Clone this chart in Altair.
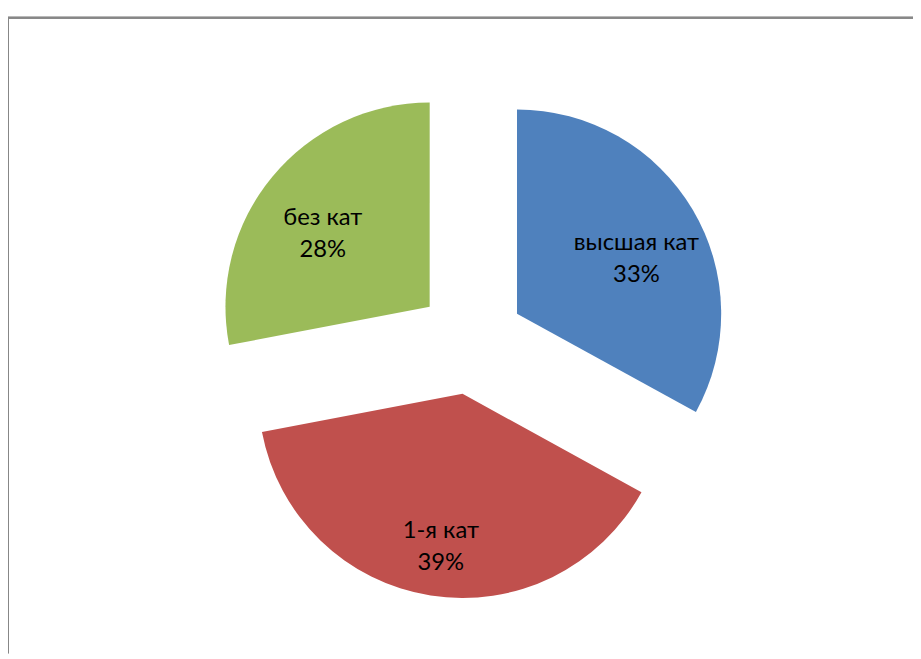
import altair as alt
import pandas as pd

categories = ["высшая кат", "1-я кат", "без кат"]
shares = [33, 39, 28]
colors = ["#4F81BD", "#C0504D", "#9BBB59"]

df = pd.DataFrame({"cat": categories, "share": shares, "order": [0, 1, 2]})

W, H = 913, 648
CX, CY = 467, 333      # pie centre (px, plot coords)
EXPLODE = 54           # explode distance
R = 206                # radius
RLAB = 140             # label distance from slice apex

base = alt.Chart(df).transform_joinaggregate(
    total="sum(share)"
).transform_window(
    cum="sum(share)", sort=[alt.SortField("order")]
).transform_calculate(
    start="2*PI*(datum.cum - datum.share)/datum.total",
    end="2*PI*datum.cum/datum.total",
    mid="2*PI*(datum.cum - datum.share/2)/datum.total",
).transform_calculate(
    px=f"{CX} + {EXPLODE}*sin(datum.mid)",
    py=f"{CY} - {EXPLODE}*cos(datum.mid)",
).transform_calculate(
    lx=f"datum.px + {RLAB}*sin(datum.mid)",
    ly=f"datum.py - {RLAB}*cos(datum.mid)",
    label="datum.cat + '\\n' + format(datum.share/datum.total, '.0%')",
)

xs = alt.Scale(domain=[0, W], range=[0, W], nice=False, zero=False)
ys = alt.Scale(domain=[0, H], range=[0, H], nice=False, zero=False)

arcs = base.mark_arc(outerRadius=R, innerRadius=0).encode(
    x=alt.X("px:Q", scale=xs, axis=None),
    y=alt.Y("py:Q", scale=ys, axis=None),
    theta=alt.Theta("start:Q", scale=None),
    theta2="end:Q",
    color=alt.Color("cat:N", scale=alt.Scale(domain=categories, range=colors), legend=None),
)

labels = base.mark_text(
    lineBreak="\n", font="Lato", fontSize=24, lineHeight=32, color="#000000",
    align="center", baseline="middle",
).encode(
    x=alt.X("lx:Q", scale=xs, axis=None),
    y=alt.Y("ly:Q", scale=ys, axis=None),
    text="label:N",
)

frame_top = alt.Chart(df).mark_rule(color="#878787", strokeWidth=2).encode(
    x=alt.value(0), x2=alt.value(W), y=alt.value(7)
)
frame_left = alt.Chart(df).mark_rule(color="#878787", strokeWidth=2).encode(
    x=alt.value(0), y=alt.value(7), y2=alt.value(H)
)

chart = alt.layer(frame_top, frame_left, arcs, labels).properties(
    width=W, height=H, autosize=alt.AutoSizeParams(type="none"), padding=0
).configure_view(stroke=None)

chart.save("out.html", embed_options={"renderer": "svg", "actions": False})
